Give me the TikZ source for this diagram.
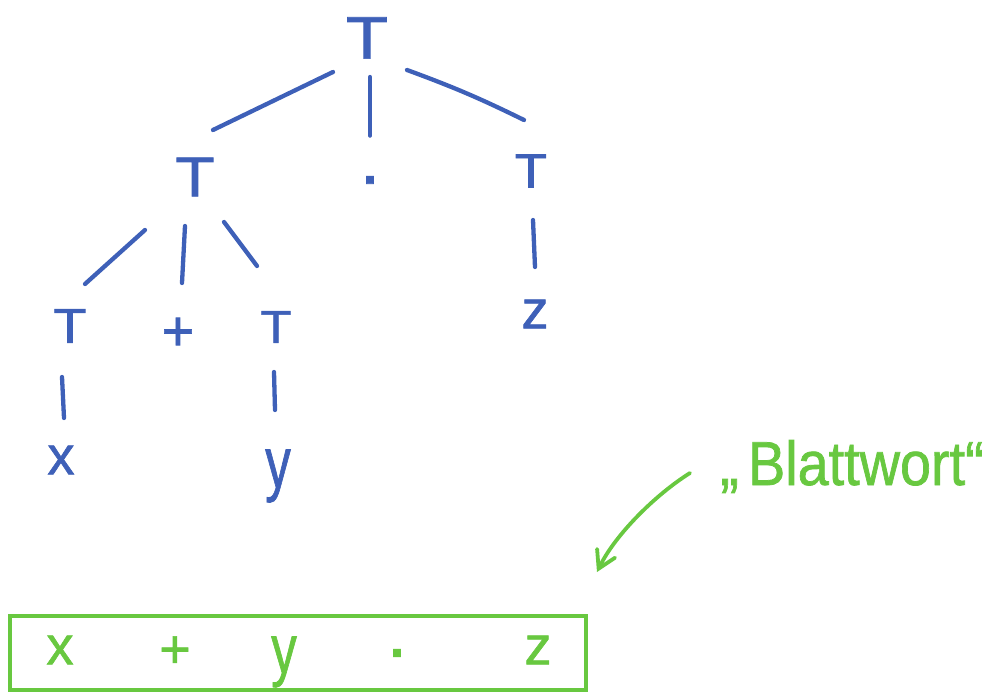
\documentclass[tikz,border=0pt]{standalone}
\usepackage{fontspec}
\setmainfont[FakeBold=1.2]{Liberation Sans}
\usetikzlibrary{arrows.meta}
\definecolor{pen}{RGB}{62,96,184}
\definecolor{marker}{RGB}{104,200,64}
\begin{document}
\begin{tikzpicture}[x=1pt,y=-1pt,
  tb/.style={text=pen, inner sep=0pt, font=\fontsize{#1}{#1}\selectfont},
  gb/.style={text=marker, inner sep=0pt, font=\fontsize{#1}{#1}\selectfont},
  blueline/.style={draw=pen, line width=4.3pt, line cap=round},
  greenline/.style={draw=marker, line width=3.8pt, line cap=round, line join=round}]
\useasboundingbox (0,0) rectangle (991,695);
% tree nodes
\node[tb=60] (r) at (367,38) {\scalebox{1.15}[1]{T}};
\node[tb=56] (a) at (195,177) {\scalebox{1.15}[1]{T}};
\node[tb=70, anchor=base] (d) at (370,199) {·};
\node[tb=48] (b) at (531,171) {\scalebox{1.1}[1]{T}};
\node[tb=54] (z) at (535,314) {z};
\node[tb=49] (t1) at (70,326) {\scalebox{1.1}[1]{T}};
\node[tb=56] (p) at (178,334) {+};
\node[tb=46] (t2) at (276,327) {\scalebox{1.1}[1]{T}};
\node[tb=54] (x) at (61,460) {x};
\node[tb=60] (y) at (278,476) {\scalebox{0.85}[1.2]{y}};
% tree connectors
\draw[blueline] ([shift={(-34,34)}]r.center) -- ([shift={(18,-47)}]a.center);
\draw[blueline] ([shift={(3,39)}]r.center) -- ([shift={(0,-52)}]d.center);
\draw[blueline] ([shift={(40,32)}]r.center) to[bend left=3] ([shift={(-7,-51)}]b.center);
\draw[blueline] ([shift={(-50,53)}]a.center) -- ([shift={(15,-42)}]t1.center);
\draw[blueline] ([shift={(-10,49)}]a.center) -- ([shift={(4,-51)}]p.center);
\draw[blueline] ([shift={(29,45)}]a.center) -- ([shift={(-19,-61)}]t2.center);
\draw[blueline] ([shift={(2,49)}]b.center) -- ([shift={(0,-47)}]z.center);
\draw[blueline] ([shift={(-8,51)}]t1.center) -- ([shift={(3,-42)}]x.center);
\draw[blueline] ([shift={(-2,45)}]t2.center) -- ([shift={(-3,-66)}]y.center);
% leaf word box
\node[draw=marker, line width=3.8pt, minimum width=576pt, minimum height=74pt, inner sep=0pt] (box) at (298,653) {};
\node[gb=54] (lx) at (60,650) {x};
\node[gb=54] (lp) at (175,652) {+};
\node[gb=60] (ly) at (284,662) {\scalebox{0.85}[1.15]{y}};
\node[gb=70, anchor=base] (ld) at (397,672) {·};
\node[gb=54] (lz) at (538,650) {z};
% label and arrow
\node[gb=62, anchor=base west] (bw) at (720,485) {\scalebox{0.9}[1]{„\,Blattwort“}};
\coordinate (astart) at (690,473);
\coordinate (atip) at (597,572);
\draw[greenline, -{Straight Barb[length=17pt,width=20pt,line cap=round]}] (astart) .. controls (655,495) and (615,535) .. (atip);
\end{tikzpicture}
\end{document}
